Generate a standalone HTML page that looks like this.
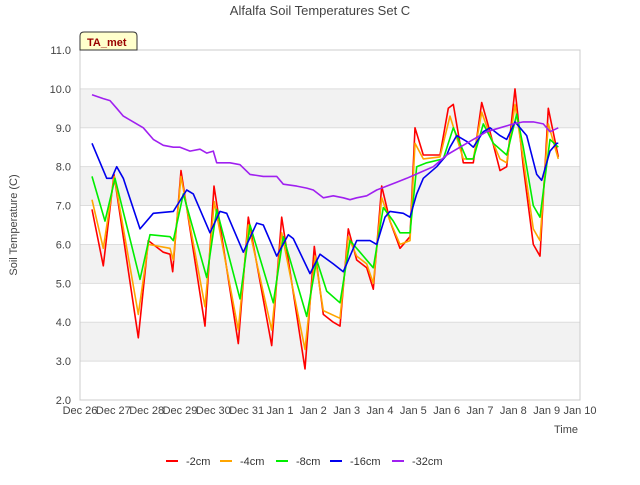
<!DOCTYPE html>
<html><head><meta charset="utf-8"><style>body{margin:0;background:#fff}svg{font-family:"Liberation Sans","DejaVu Sans",sans-serif}</style></head>
<body>
<svg id="c" width="640" height="480" xmlns="http://www.w3.org/2000/svg">
<text x="320" y="15" text-anchor="middle" font-size="13" fill="#444">Alfalfa Soil Temperatures Set C</text>
<g id="bands"></g><g id="grid"></g><g id="yt"></g><g id="xt"></g><g id="series"></g>
<rect x="80" y="50" width="500" height="350" fill="none" stroke="#ccc"/>
<text transform="translate(17,225) rotate(-90)" text-anchor="middle" font-size="11" fill="#444">Soil Temperature (C)</text>
<text x="566" y="433" text-anchor="middle" font-size="11" fill="#444">Time</text>
<g><path d="M80,50 L80,36 Q80,32 84,32 L133,32 Q137,32 137,36 L137,50 Z" fill="#ffffcc" stroke="#333"/><text x="87" y="46" font-size="11" font-weight="bold" fill="#990000">TA_met</text></g>
<g id="legend"></g>
</svg>
<script>
const yTicks=[2,3,4,5,6,7,8,9,10,11];
const xTickLabels=["Dec 26","Dec 27","Dec 28","Dec 29","Dec 30","Dec 31","Jan 1","Jan 2","Jan 3","Jan 4","Jan 5","Jan 6","Jan 7","Jan 8","Jan 9","Jan 10"];
const seriesNames=["-2cm","-4cm","-8cm","-16cm","-32cm"];
const seriesColors=["#ff0000","#ffa500","#00ee00","#0000ee","#a020f0"];
const s2=[[0.36,6.9],[0.7,5.45],[1.02,7.8],[1.75,3.6],[2.05,6.1],[2.5,5.8],[2.7,5.75],[2.78,5.3],[3.03,7.9],[3.75,3.9],[4.02,7.5],[4.75,3.45],[5.05,6.7],[5.75,3.4],[6.05,6.7],[6.75,2.8],[7.03,5.95],[7.3,4.2],[7.6,4.0],[7.8,3.9],[8.05,6.4],[8.3,5.6],[8.6,5.4],[8.8,4.85],[9.05,7.5],[9.3,6.6],[9.6,5.9],[9.9,6.2],[10.05,9.0],[10.3,8.3],[10.6,8.3],[10.8,8.3],[11.05,9.5],[11.2,9.6],[11.5,8.1],[11.8,8.1],[12.05,9.65],[12.3,8.9],[12.6,7.9],[12.8,8.0],[13.05,10.0],[13.3,8.0],[13.6,6.0],[13.8,5.7],[14.05,9.5],[14.35,8.25]];
const s4=[[0.36,7.15],[0.7,5.9],[1.03,7.75],[1.75,4.2],[2.05,6.0],[2.7,5.9],[2.8,5.6],[3.03,7.75],[3.75,4.4],[4.03,7.1],[4.75,3.8],[5.05,6.5],[5.75,3.8],[6.05,6.3],[6.75,3.3],[7.05,5.7],[7.3,4.3],[7.8,4.1],[8.05,6.2],[8.3,5.7],[8.6,5.5],[8.8,5.0],[9.05,7.2],[9.3,6.6],[9.6,6.0],[9.9,6.1],[10.05,8.6],[10.3,8.2],[10.8,8.25],[11.1,9.3],[11.5,8.2],[11.8,8.2],[12.05,9.4],[12.3,8.8],[12.6,8.2],[12.8,8.1],[13.05,9.6],[13.3,8.2],[13.6,6.4],[13.8,6.1],[14.05,9.1],[14.35,8.2]];
const s8=[[0.36,7.75],[0.75,6.6],[1.05,7.7],[1.8,5.1],[2.1,6.25],[2.7,6.2],[2.8,6.1],[3.1,7.3],[3.8,5.15],[4.1,6.9],[4.8,4.6],[5.1,6.5],[5.8,4.5],[6.1,6.2],[6.8,4.15],[7.1,5.6],[7.4,4.8],[7.8,4.5],[8.1,6.1],[8.4,5.8],[8.8,5.4],[9.1,6.95],[9.4,6.6],[9.6,6.3],[9.9,6.3],[10.1,8.0],[10.4,8.1],[10.9,8.2],[11.2,9.0],[11.6,8.2],[11.8,8.2],[12.1,9.1],[12.4,8.6],[12.8,8.3],[13.1,9.35],[13.3,8.5],[13.6,7.0],[13.8,6.7],[14.1,8.7],[14.35,8.5]];
const s16=[[0.36,8.6],[0.8,7.7],[0.95,7.7],[1.1,8.0],[1.3,7.7],[1.8,6.4],[2.2,6.8],[2.8,6.85],[3.2,7.4],[3.4,7.3],[3.9,6.3],[4.2,6.85],[4.4,6.8],[4.9,5.8],[5.3,6.55],[5.5,6.5],[5.9,5.7],[6.25,6.25],[6.4,6.15],[6.9,5.25],[7.2,5.75],[7.6,5.5],[7.9,5.3],[8.3,6.1],[8.7,6.1],[8.9,6.0],[9.15,6.7],[9.3,6.85],[9.7,6.8],[9.9,6.7],[10.1,7.3],[10.3,7.7],[10.7,8.0],[11.0,8.3],[11.1,8.5],[11.3,8.8],[11.6,8.65],[11.8,8.5],[12.1,8.9],[12.3,9.0],[12.6,8.8],[12.8,8.7],[13.05,9.15],[13.4,8.8],[13.7,7.8],[13.85,7.65],[14.1,8.4],[14.3,8.6],[14.35,8.6]];
const s32=[[0.36,9.85],[0.7,9.75],[0.9,9.7],[1.1,9.5],[1.3,9.3],[1.6,9.15],[1.9,9.0],[2.2,8.7],[2.5,8.55],[2.8,8.5],[3.0,8.5],[3.3,8.4],[3.6,8.45],[3.8,8.35],[4.0,8.4],[4.1,8.1],[4.5,8.1],[4.8,8.05],[5.1,7.8],[5.5,7.75],[5.9,7.75],[6.1,7.55],[6.5,7.5],[6.8,7.45],[7.0,7.4],[7.3,7.2],[7.6,7.25],[7.9,7.2],[8.1,7.15],[8.3,7.2],[8.6,7.25],[8.9,7.4],[9.2,7.5],[9.5,7.6],[9.8,7.7],[10.2,7.85],[10.6,8.0],[11.0,8.3],[11.4,8.5],[11.8,8.7],[12.2,8.9],[12.6,9.0],[13.0,9.1],[13.3,9.15],[13.6,9.15],[13.9,9.1],[14.1,8.9],[14.35,9.0]];
const allSeries=[s2,s4,s8,s16,s32];
const NS="http://www.w3.org/2000/svg";
const X=d=>80+d*(500/15), Y=v=>400-(v-2)*(350/9);
function mk(p,t,a){const e=document.createElementNS(NS,t);for(const k in a)e.setAttribute(k,a[k]);document.getElementById(p).appendChild(e);return e;}
yTicks.forEach((v,i)=>{
 if(i<yTicks.length-1&&(v%2===1)){const b=mk('bands','rect',{x:80,y:Y(v+1),width:500,height:Y(v)-Y(v+1),fill:'#f2f2f2'});
 
 }
 const g=mk('grid','line',{x1:80,x2:580,y1:Y(v),y2:Y(v),stroke:'#ddd'});
 
 
 const t=mk('yt','text',{x:71,y:Y(v)+4,'text-anchor':'end','font-size':11,fill:'#444'});t.textContent=v.toFixed(1);
 
 
});
xTickLabels.forEach((l,i)=>{
 const t=mk('xt','text',{x:X(i),y:414,'text-anchor':'middle','font-size':11,fill:'#444'});t.textContent=l;
 
 
});
allSeries.forEach((s,i)=>{
 const p=mk('series','polyline',{points:s.map(q=>X(q[0]).toFixed(1)+','+Y(q[1]).toFixed(1)).join(' '),fill:'none',stroke:seriesColors[i],'stroke-width':1.6,'stroke-linejoin':'round'});
 
 
});
const lx=[166,220,276,330,392];
seriesNames.forEach((n,i)=>{
 const l=mk('legend','line',{x1:lx[i],x2:lx[i]+12,y1:461,y2:461,stroke:seriesColors[i],'stroke-width':2});
 
 
 const t=mk('legend','text',{x:lx[i]+20,y:465,'font-size':11,fill:'#333'});t.textContent=n;
 
 
});
</script>
</body></html>
